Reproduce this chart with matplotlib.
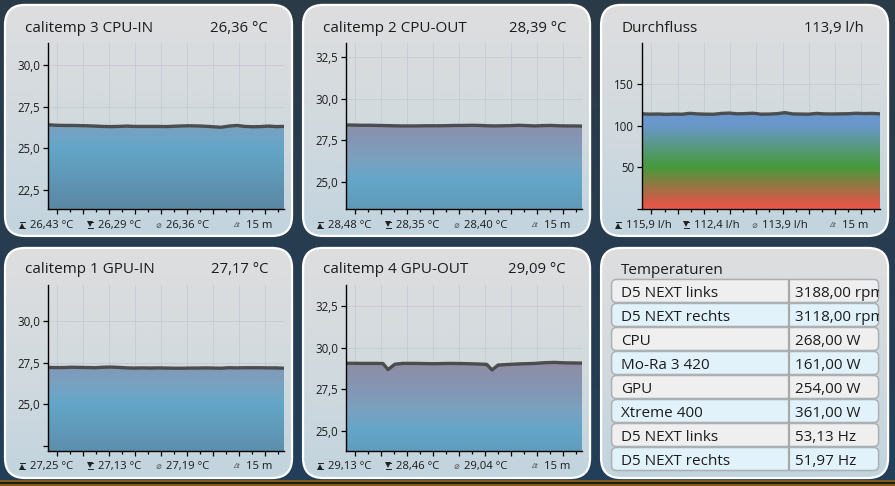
import numpy as np
import matplotlib
matplotlib.use("Agg")
import matplotlib.pyplot as plt
from matplotlib.colors import LinearSegmentedColormap, Normalize
from matplotlib.patches import FancyBboxPatch, Rectangle

plt.rcParams['font.family'] = ['Open Sans', 'DejaVu Sans']

W, H = 895, 486
minutes = [i * 0.5 for i in range(31)]

cpu_in = [26.41, 26.38, 26.37, 26.37, 26.36, 26.35, 26.33, 26.31, 26.30, 26.31, 26.33,
          26.31, 26.31, 26.31, 26.31, 26.30, 26.32, 26.34, 26.35, 26.34, 26.32, 26.29,
          26.26, 26.33, 26.37, 26.31, 26.29, 26.30, 26.33, 26.30, 26.31]
cpu_out = [28.42, 28.41, 28.40, 28.40, 28.39, 28.38, 28.37, 28.36, 28.36, 28.36, 28.37,
           28.37, 28.37, 28.38, 28.39, 28.39, 28.40, 28.39, 28.37, 28.36, 28.37, 28.38,
           28.40, 28.38, 28.36, 28.38, 28.39, 28.37, 28.36, 28.36, 28.35]
flow = [114.0, 113.6, 113.8, 113.4, 113.7, 113.5, 114.6, 113.9, 113.6, 113.5, 114.5,
        114.9, 114.0, 114.3, 114.7, 113.6, 113.7, 114.2, 115.4, 113.9, 113.7, 113.6,
        114.5, 113.9, 113.8, 114.0, 114.1, 114.7, 114.3, 114.5, 114.0]
gpu_in = [27.21, 27.20, 27.20, 27.22, 27.21, 27.20, 27.19, 27.22, 27.23, 27.21, 27.18,
          27.17, 27.18, 27.17, 27.18, 27.17, 27.16, 27.16, 27.17, 27.17, 27.18, 27.17,
          27.16, 27.19, 27.18, 27.19, 27.19, 27.19, 27.18, 27.18, 27.16]
gpu_out_t = [0, 1, 2, 2.35, 2.67, 3.1, 3.6, 4.5, 5.5, 6.5, 7.5, 8.5, 8.94, 9.28, 9.66,
             10.2, 11, 12, 12.6, 13.2, 14, 15]
gpu_out = [29.06, 29.05, 29.05, 29.04, 28.68, 29.00, 29.05, 29.05, 29.03, 29.05, 29.04,
           29.01, 28.99, 28.66, 28.95, 28.98, 29.02, 29.05, 29.09, 29.11, 29.08, 29.07]

titles = ["calitemp 3 CPU-IN", "calitemp 2 CPU-OUT", "Durchfluss",
          "calitemp 1 GPU-IN", "calitemp 4 GPU-OUT"]
currents = ["26,36 °C", "28,39 °C", "113,9 l/h", "27,17 °C", "29,09 °C"]
maxima = ["26,43 °C", "28,48 °C", "115,9 l/h", "27,25 °C", "29,13 °C"]
minima = ["26,29 °C", "28,35 °C", "112,4 l/h", "27,13 °C", "28,46 °C"]
means = ["26,36 °C", "28,40 °C", "113,9 l/h", "27,19 °C", "29,04 °C"]
span = "15 m"

table_title = "Temperaturen"
row_names = ["D5 NEXT links", "D5 NEXT rechts", "CPU", "Mo-Ra 3 420", "GPU",
             "Xtreme 400", "D5 NEXT links", "D5 NEXT rechts"]
row_values = ["3188,00 rpm", "3118,00 rpm", "268,00 W", "161,00 W", "254,00 W",
              "361,00 W", "53,13 Hz", "51,97 Hz"]

TEXT = '#1c1c1c'
TITLE_FS = 11.0
temp_lo, temp_hi = 21.0, 29.5
def stops(lo, hi, pairs):
    return LinearSegmentedColormap.from_list('g', [((v - lo) / (hi - lo), c) for v, c in pairs])
temp_cmap = stops(temp_lo, temp_hi, [(21.0, '#5a85a0'), (25.0, '#63a6c8'), (26.3, '#7aa1c0'),
                                     (27.5, '#8496b4'), (29.5, '#938aa0')])
flow_cmap = stops(0, 120, [(0, '#f0564a'), (10, '#d25c48'), (50, '#469a3b'),
                           (100, '#6a97cc'), (120, '#6a97cc')])

fig = plt.figure(figsize=((W + 0.1) / 100, (H + 0.1) / 100), dpi=100)
bg = fig.add_axes([0, 0, 1, 1], zorder=0)
bg_cmap = LinearSegmentedColormap.from_list('bg', ['#2c3a47', '#233f59'])
bg.imshow(np.linspace(0, 1, 256)[:, None], extent=(0, W, H, 0), aspect='auto', cmap=bg_cmap)
panel_cmap = LinearSegmentedColormap.from_list('p', ['#dedede', '#d2dade', '#c2d4de'])

def panel(x0, y0, x1, y1):
    patch = FancyBboxPatch((x0, y0), x1 - x0, y1 - y0, boxstyle='round,pad=0,rounding_size=20',
                           fc='none', ec='white', lw=1.6, zorder=3)
    bg.add_patch(patch)
    im = bg.imshow(np.linspace(0, 1, 256)[:, None], extent=(x0, x1, y1, y0), aspect='auto',
                   cmap=panel_cmap, zorder=2)
    im.set_clip_path(patch)

def chart(x0, y0, x1, y1, t, v, ylim, yticks, labels, cmap, norm):
    ax = fig.add_axes([x0 / W, 1 - y1 / H, (x1 - x0) / W, (y1 - y0) / H], zorder=5)
    ax.patch.set_alpha(0)
    ax.set_axisbelow(True)
    ax.set_xlim(0, 15)
    ax.set_ylim(*ylim)
    major = np.arange(0.59, 15, 1.653)
    minor = np.append(major[:-1] + 1.653 / 2, major[-1] + 1.653 / 2)
    ax.set_xticks(major)
    ax.set_xticks(minor, minor=True)
    ax.set_yticks(yticks)
    ax.set_yticklabels(labels, fontsize=8.3, color=TEXT)
    ax.set_xticklabels([])
    ax.grid(True, which='major', color='#bcc4d2', lw=0.7, alpha=0.6)
    ax.tick_params(axis='y', length=3.6, width=0.9, pad=2.2, color='black')
    ax.tick_params(axis='x', which='major', length=3.6, width=0.9, color='black')
    ax.tick_params(axis='x', which='minor', length=2.2, width=0.9, color='black')
    for s in ('top', 'right'):
        ax.spines[s].set_visible(False)
    ax.spines['left'].set_linewidth(1.0)
    ax.spines['bottom'].set_linewidth(1.0)
    poly = ax.fill_between(t, v, ylim[0], facecolor='none', edgecolor='none')
    grad = np.linspace(ylim[0], ylim[1], 512)[:, None]
    im = ax.imshow(grad, extent=(0, 15, ylim[0], ylim[1]), origin='lower', aspect='auto',
                   cmap=cmap, norm=norm, zorder=1)
    im.set_clip_path(poly.get_paths()[0], ax.transData)
    ax.set_xlim(0, 15)
    ax.set_ylim(*ylim)
    ax.plot(t, v, color='#474747', lw=2.4, alpha=0.95, zorder=2, solid_joinstyle='round')
    return ax

def footer(dx, y, maxi, mini, mean):
    tx = bg.text
    kw = dict(va='center', fontsize=8.1, color=TEXT, zorder=6)
    tx(30 + dx, y, maxi, **kw)
    tx(98 + dx, y, mini, **kw)
    tx(166 + dx, y, mean, **kw)
    tx(246 + dx, y, span, **kw)
    for cx, upper in ((22 + dx, False), (90 + dx, True)):
        bg.plot([cx], [y + (1.0 if not upper else -1.0)], marker='^' if not upper else 'v', ms=4.2,
                color='#222222', mew=0, zorder=6)
        bg.plot([cx - 2.5, cx + 2.5], [y - 3, y - 3], color='#222222', lw=0.7, zorder=6)
        bg.plot([cx - 2.5, cx + 2.5], [y + 3, y + 3], color='#222222', lw=0.7, zorder=6)
    tx(158 + dx, y, "⌀", ha='center', va='center', fontsize=6.5, color='#555555', zorder=6,
       style='italic')
    tx(237 + dx, y, "Δt", ha='center', va='center', fontsize=5.5, color='#555555', zorder=6,
       style='italic')

temp_norm = Normalize(temp_lo, temp_hi)
flow_norm = Normalize(0, 120)

panels = [(5, 5, 292, 236), (303, 5, 590, 236), (601, 5, 888, 236),
          (5, 248, 292, 478), (303, 248, 590, 478)]
for p in panels + [(601, 248, 888, 478)]:
    panel(*p)

chart(48, 43, 284, 209, minutes, cpu_in, (21.36, 31.32), [22.5, 25, 27.5, 30],
      ['22,5', '25,0', '27,5', '30,0'], temp_cmap, temp_norm)
chart(346, 43, 582, 209, minutes, cpu_out, (23.38, 33.34), [25, 27.5, 30, 32.5],
      ['25,0', '27,5', '30,0', '32,5'], temp_cmap, temp_norm)
chart(642, 43, 880, 209, minutes, flow, (0, 199), [0, 50, 100, 150],
      ['', '50', '100', '150'], flow_cmap, flow_norm)
chart(48, 285, 284, 451, minutes, gpu_in, (22.2, 32.15), [22.5, 25, 27.5, 30],
      ['', '25,0', '27,5', '30,0'], temp_cmap, temp_norm)
chart(346, 285, 582, 451, gpu_out_t, gpu_out, (23.8, 33.75), [25, 27.5, 30, 32.5],
      ['25,0', '27,5', '30,0', '32,5'], temp_cmap, temp_norm)

title_pos = [(25, 268, 28), (323, 566, 28), (621, 864, 28), (25, 268, 269), (323, 566, 269)]
foot_pos = [(0, 225), (298, 225), (596, 225), (0, 466), (298, 466)]
for i, (tx0, tx1, ty) in enumerate(title_pos):
    bg.text(tx0, ty, titles[i], fontsize=TITLE_FS, color=TEXT, va='center', zorder=6)
    bg.text(tx1, ty, currents[i], fontsize=10.7, color=TEXT, va='center', ha='right', zorder=6)
    footer(foot_pos[i][0], foot_pos[i][1], maxima[i], minima[i], means[i])

bg.text(621, 270, table_title, fontsize=TITLE_FS, color=TEXT, va='center', zorder=6)
row_h = 24.0
for i, (name, val) in enumerate(zip(row_names, row_values)):
    y = 279.5 + i * row_h
    fc = '#efefef' if i % 2 == 0 else '#e2f2fb'
    box = FancyBboxPatch((611.5, y), 267, row_h - 1, boxstyle='round,pad=0,rounding_size=5',
                         fc=fc, ec='#adb0b2', lw=1.1, zorder=4)
    bg.add_patch(box)
    bg.plot([788.5, 788.5], [y, y + row_h - 1], color='#a8a8a8', lw=1.6, zorder=5,
            solid_capstyle='butt')
    bg.text(621, y + 14, name, fontsize=TITLE_FS, color=TEXT, va='center', zorder=6)
    t = bg.text(795, y + 14, val, fontsize=TITLE_FS, color=TEXT, va='center', zorder=6)
    t.set_clip_on(True)
    t.set_clip_path(Rectangle((611.5, y), 267, row_h, transform=bg.transData))

bg.add_patch(Rectangle((0, 480.5), W, 2, fc='#7d5a1e', ec='none', zorder=6))
bg.add_patch(Rectangle((0, 482.5), W, 2, fc='#231f14', ec='none', zorder=6))
bg.add_patch(Rectangle((0, 484.5), W, 1.5, fc='#7d5a1e', ec='none', zorder=6))

bg.set_xlim(0, W)
bg.set_ylim(H, 0)
bg.axis('off')
fig.savefig('out.png', dpi=100)
